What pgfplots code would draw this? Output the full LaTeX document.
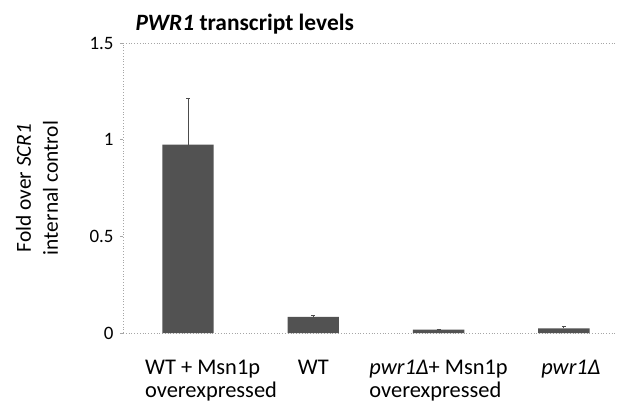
\documentclass[border=0pt]{standalone}
\usepackage{fontspec}
\setmainfont{Carlito}
\usepackage{pgfplots}
\pgfplotsset{compat=1.18}
\begin{document}
\begin{tikzpicture}
\begin{axis}[
  scale only axis,
  width=494bp, height=290bp,
  xmin=-0.519, xmax=3.424,
  ymin=0, ymax=1.5,
  ytick={0,0.5,1,1.5},
  yticklabels={0,0.5,1,1.5},
  xtick={0,1,2,3},
  xticklabels={
    {\hspace*{46bp}WT + Msn1p\\\hspace*{46bp}overexpressed},
    {WT},
    {\textit{pwr1Δ}+ Msn1p\\overexpressed},
    {\hspace*{14bp}\textit{pwr1Δ}}},
  x tick label style={align=left, anchor=north, yshift=-21bp, font=\fontsize{22.5}{22.5}\selectfont},
  y tick label style={font=\fontsize{19}{22}\selectfont, xshift=-3bp},
  /pgf/number format/assume math mode=true,
  axis line style={draw=none},
  major x tick style={draw=none},
  major y tick style={draw=gray!70, line width=0.6bp},
  ytick pos=left,
  tick align=outside,
  major tick length=3bp,
  ylabel={Fold over \textit{SCR1}\\internal control},
  every axis y label/.style={at={([xshift=-86bp]rel axis cs:0,0.5)}, rotate=90, anchor=center, align=center, font=\fontsize{21.5}{27}\selectfont},
  clip=false,
]
\draw[gray!70, dotted, line width=0.8bp] (rel axis cs:0,0) -- (rel axis cs:1,0);
\draw[gray!70, dotted, line width=0.8bp] (rel axis cs:0,1) -- (rel axis cs:1,1);
\draw[gray!70, dotted, line width=0.8bp] (rel axis cs:0,0) -- (rel axis cs:0,1);
\addplot[ybar, bar width=0.41, fill=black!68, draw=none,
  error bars/.cd, y dir=plus, y explicit,
  error bar style={black!70, line width=0.8bp},
  error mark options={rotate=90, mark size=2bp, black!70}]
  coordinates {
    (0,0.974) +- (0,0.242)
    (1,0.083) +- (0,0.010)
    (2,0.018) +- (0,0.002)
    (3,0.024) +- (0,0.010)
  };
\node[anchor=base west, font=\fontsize{23.5}{28}\selectfont\bfseries] at ([xshift=9bp, yshift=12bp]rel axis cs:0,1) {\textit{PWR1} transcript levels};
\coordinate (ll) at (rel axis cs:0,0);
\end{axis}
\pgfresetboundingbox
\path (ll) ++(-123bp,-72bp) rectangle ++(617bp,405bp);
\end{tikzpicture}
\end{document}
